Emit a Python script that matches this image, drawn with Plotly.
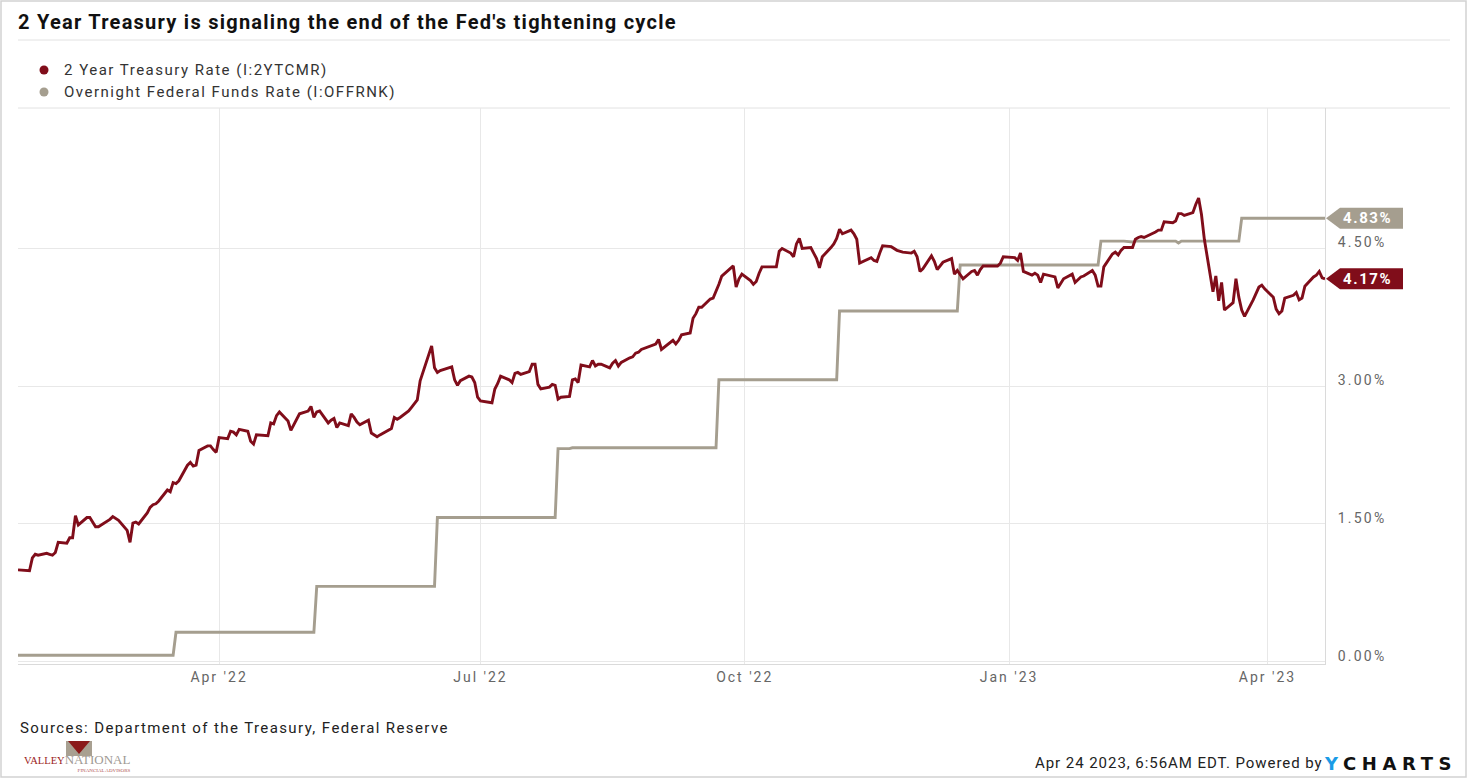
import plotly.graph_objects as go

# ---------------- data ----------------
tsy_dates = [
    # Jan 2022
    "2022-01-21", "2022-01-24", "2022-01-25", "2022-01-26", "2022-01-27", "2022-01-28", "2022-01-31",
    # Feb 2022
    "2022-02-01", "2022-02-02", "2022-02-03", "2022-02-04", "2022-02-07", "2022-02-08", "2022-02-09", "2022-02-10",
    "2022-02-11", "2022-02-14", "2022-02-15", "2022-02-16", "2022-02-17", "2022-02-18", "2022-02-22", "2022-02-23",
    "2022-02-24", "2022-02-25", "2022-02-28",
    # Mar 2022
    "2022-03-01", "2022-03-02", "2022-03-03", "2022-03-04", "2022-03-07", "2022-03-08", "2022-03-09", "2022-03-10",
    "2022-03-11", "2022-03-14", "2022-03-15", "2022-03-16", "2022-03-17", "2022-03-18", "2022-03-21", "2022-03-22",
    "2022-03-23", "2022-03-24", "2022-03-25", "2022-03-28", "2022-03-29", "2022-03-30", "2022-03-31",
    # Apr 2022
    "2022-04-01", "2022-04-04", "2022-04-05", "2022-04-06", "2022-04-07", "2022-04-08", "2022-04-11", "2022-04-12",
    "2022-04-13", "2022-04-14", "2022-04-18", "2022-04-19", "2022-04-20", "2022-04-21", "2022-04-22", "2022-04-25",
    "2022-04-26", "2022-04-27", "2022-04-28", "2022-04-29",
    # May 2022
    "2022-05-02", "2022-05-03", "2022-05-04", "2022-05-05", "2022-05-06", "2022-05-09", "2022-05-10", "2022-05-11",
    "2022-05-12", "2022-05-13", "2022-05-16", "2022-05-17", "2022-05-18", "2022-05-19", "2022-05-20", "2022-05-23",
    "2022-05-24", "2022-05-25", "2022-05-26", "2022-05-27", "2022-05-31",
    # Jun 2022
    "2022-06-01", "2022-06-02", "2022-06-03", "2022-06-06", "2022-06-07", "2022-06-08", "2022-06-09", "2022-06-10",
    "2022-06-13", "2022-06-14", "2022-06-15", "2022-06-16", "2022-06-17", "2022-06-21", "2022-06-22", "2022-06-23",
    "2022-06-24", "2022-06-27", "2022-06-28", "2022-06-29", "2022-06-30",
    # Jul 2022
    "2022-07-01", "2022-07-05", "2022-07-06", "2022-07-07", "2022-07-08", "2022-07-11", "2022-07-12", "2022-07-13",
    "2022-07-14", "2022-07-15", "2022-07-18", "2022-07-19", "2022-07-20", "2022-07-21", "2022-07-22", "2022-07-25",
    "2022-07-26", "2022-07-27", "2022-07-28", "2022-07-29",
    # Aug 2022
    "2022-08-01", "2022-08-02", "2022-08-03", "2022-08-04", "2022-08-05", "2022-08-08", "2022-08-09", "2022-08-10",
    "2022-08-11", "2022-08-12", "2022-08-15", "2022-08-16", "2022-08-17", "2022-08-18", "2022-08-19", "2022-08-22",
    "2022-08-23", "2022-08-24", "2022-08-25", "2022-08-26", "2022-08-29", "2022-08-30", "2022-08-31",
    # Sep 2022
    "2022-09-01", "2022-09-02", "2022-09-06", "2022-09-07", "2022-09-08", "2022-09-09", "2022-09-12", "2022-09-13",
    "2022-09-14", "2022-09-15", "2022-09-16", "2022-09-19", "2022-09-20", "2022-09-21", "2022-09-22", "2022-09-23",
    "2022-09-26", "2022-09-27", "2022-09-28", "2022-09-29", "2022-09-30",
    # Oct 2022
    "2022-10-03", "2022-10-04", "2022-10-05", "2022-10-06", "2022-10-07", "2022-10-11", "2022-10-12", "2022-10-13",
    "2022-10-14", "2022-10-17", "2022-10-18", "2022-10-19", "2022-10-20", "2022-10-21", "2022-10-24", "2022-10-25",
    "2022-10-26", "2022-10-27", "2022-10-28", "2022-10-31",
    # Nov 2022
    "2022-11-01", "2022-11-02", "2022-11-03", "2022-11-04", "2022-11-07", "2022-11-08", "2022-11-09", "2022-11-10",
    "2022-11-14", "2022-11-15", "2022-11-16", "2022-11-17", "2022-11-18", "2022-11-21", "2022-11-22", "2022-11-23",
    "2022-11-25", "2022-11-28", "2022-11-29", "2022-11-30",
    # Dec 2022
    "2022-12-01", "2022-12-02", "2022-12-05", "2022-12-06", "2022-12-07", "2022-12-08", "2022-12-09", "2022-12-12",
    "2022-12-13", "2022-12-14", "2022-12-15", "2022-12-16", "2022-12-19", "2022-12-20", "2022-12-21", "2022-12-22",
    "2022-12-23", "2022-12-27", "2022-12-28", "2022-12-29", "2022-12-30",
    # Jan 2023
    "2023-01-03", "2023-01-04", "2023-01-05", "2023-01-06", "2023-01-09", "2023-01-10", "2023-01-11", "2023-01-12",
    "2023-01-13", "2023-01-17", "2023-01-18", "2023-01-19", "2023-01-20", "2023-01-23", "2023-01-24", "2023-01-25",
    "2023-01-26", "2023-01-27", "2023-01-30", "2023-01-31",
    # Feb 2023
    "2023-02-01", "2023-02-02", "2023-02-03", "2023-02-06", "2023-02-07", "2023-02-08", "2023-02-09", "2023-02-10",
    "2023-02-13", "2023-02-14", "2023-02-15", "2023-02-16", "2023-02-17", "2023-02-21", "2023-02-22", "2023-02-23",
    "2023-02-24", "2023-02-27", "2023-02-28",
    # Mar 2023
    "2023-03-01", "2023-03-02", "2023-03-03", "2023-03-06", "2023-03-07", "2023-03-08", "2023-03-09", "2023-03-10",
    "2023-03-13", "2023-03-14", "2023-03-15", "2023-03-16", "2023-03-17", "2023-03-20", "2023-03-21", "2023-03-22",
    "2023-03-23", "2023-03-24", "2023-03-27", "2023-03-28", "2023-03-29", "2023-03-30", "2023-03-31",
    # Apr 2023
    "2023-04-03", "2023-04-04", "2023-04-05", "2023-04-06", "2023-04-07", "2023-04-10", "2023-04-11", "2023-04-12",
    "2023-04-13", "2023-04-14", "2023-04-17", "2023-04-18", "2023-04-19", "2023-04-20", "2023-04-21",
]

tsy_values = [
    # Jan 2022
    1.00, 0.99, 0.99, 1.13, 1.17, 1.16, 1.18,
    # Feb 2022
    1.17, 1.16, 1.19, 1.30, 1.29, 1.35, 1.35, 1.59,
    1.49, 1.57, 1.57, 1.52, 1.47, 1.47, 1.55, 1.58,
    1.56, 1.54, 1.43,
    # Mar 2022
    1.30, 1.51, 1.52, 1.50, 1.62, 1.68, 1.71, 1.72,
    1.75, 1.87, 1.85, 1.95, 1.94, 1.97, 2.14, 2.17,
    2.13, 2.14, 2.30, 2.35, 2.35, 2.31, 2.28,
    # Apr 2022
    2.44, 2.43, 2.51, 2.50, 2.47, 2.53, 2.51, 2.40,
    2.37, 2.47, 2.46, 2.60, 2.59, 2.68, 2.72, 2.62,
    2.52, 2.58, 2.63, 2.70,
    # May 2022
    2.73, 2.78, 2.66, 2.72, 2.73, 2.60, 2.63, 2.65,
    2.55, 2.60, 2.57, 2.70, 2.66, 2.61, 2.58, 2.63,
    2.49, 2.47, 2.45, 2.47, 2.54,
    # Jun 2022
    2.66, 2.64, 2.66, 2.73, 2.77, 2.81, 2.85, 3.06,
    3.33, 3.44, 3.20, 3.15, 3.17, 3.21, 3.07, 3.01,
    3.06, 3.11, 3.10, 3.04, 2.88,
    # Jul 2022
    2.84, 2.82, 2.97, 3.03, 3.11, 3.07, 3.04, 3.14,
    3.15, 3.13, 3.16, 3.24, 3.24, 3.02, 2.97, 2.99,
    3.02, 3.01, 2.86, 2.88,
    # Aug 2022
    2.89, 3.07, 3.08, 3.04, 3.23, 3.21, 3.28, 3.22,
    3.24, 3.24, 3.20, 3.25, 3.28, 3.22, 3.26, 3.31,
    3.32, 3.36, 3.37, 3.40, 3.44, 3.45, 3.46,
    # Sep 2022
    3.51, 3.40, 3.50, 3.46, 3.50, 3.56, 3.58, 3.74,
    3.79, 3.86, 3.86, 3.95, 3.96, 4.03, 4.11, 4.20,
    4.29, 4.31, 4.08, 4.17, 4.22,
    # Oct 2022
    4.15, 4.11, 4.14, 4.23, 4.30, 4.30, 4.30, 4.47,
    4.50, 4.45, 4.41, 4.55, 4.61, 4.50, 4.51, 4.45,
    4.39, 4.29, 4.41, 4.51,
    # Nov 2022
    4.55, 4.61, 4.71, 4.66, 4.70, 4.66, 4.60, 4.34,
    4.40, 4.37, 4.36, 4.45, 4.53, 4.52, 4.50, 4.48,
    4.46, 4.45, 4.47, 4.41,
    # Dec 2022
    4.25, 4.28, 4.42, 4.36, 4.27, 4.31, 4.35, 4.39,
    4.22, 4.26, 4.21, 4.17, 4.25, 4.26, 4.21, 4.27,
    4.31, 4.31, 4.31, 4.34, 4.41,
    # Jan 2023
    4.40, 4.37, 4.45, 4.25, 4.21, 4.23, 4.21, 4.13,
    4.22, 4.19, 4.07, 4.12, 4.17, 4.22, 4.13, 4.16,
    4.19, 4.20, 4.26, 4.21,
    # Feb 2023
    4.09, 4.09, 4.30, 4.44, 4.46, 4.43, 4.48, 4.51,
    4.51, 4.60, 4.62, 4.63, 4.62, 4.68, 4.70, 4.70,
    4.79, 4.78, 4.80,
    # Mar 2023
    4.88, 4.88, 4.86, 4.89, 4.98, 5.05, 4.87, 4.60,
    4.03, 4.20, 3.93, 4.13, 3.83, 3.91, 4.17, 3.97,
    3.83, 3.76, 3.94, 4.02, 4.08, 4.10, 4.06,
    # Apr 2023
    3.97, 3.84, 3.79, 3.82, 3.96, 3.99, 4.02, 3.94,
    3.96, 4.09, 4.19, 4.21, 4.25, 4.18, 4.17,
]

# Overnight Federal Funds Rate: corner points of the step series
fed_dates = [
    "2022-01-21", "2022-03-16", "2022-03-17", "2022-05-04", "2022-05-05",
    "2022-06-15", "2022-06-16", "2022-07-27", "2022-07-28", "2022-08-01", "2022-08-02",
    "2022-09-21", "2022-09-22", "2022-11-02", "2022-11-03", "2022-12-14", "2022-12-15",
    "2023-02-01", "2023-02-02", "2023-02-10", "2023-02-13", "2023-02-14",
    "2023-02-28", "2023-03-01", "2023-03-02", "2023-03-22", "2023-03-23", "2023-04-21",
]
fed_values = [
    0.07, 0.07, 0.32, 0.32, 0.82,
    0.82, 1.57, 1.57, 2.32, 2.32, 2.33,
    2.33, 3.07, 3.07, 3.82, 3.82, 4.32,
    4.32, 4.58, 4.58, 4.57, 4.58,
    4.58, 4.56, 4.58, 4.58, 4.83, 4.83,
]

series_names = ["2 Year Treasury Rate (I:2YTCMR)", "Overnight Federal Funds Rate (I:OFFRNK)"]
x_tick_vals = ["2022-04-01", "2022-07-01", "2022-10-01", "2023-01-01", "2023-04-01"]
x_tick_text = ["Apr '22", "Jul '22", "Oct '22", "Jan '23", "Apr '23"]
y_tick_vals = [0, 1.5, 3.0, 4.5]
y_tick_text = ["0.00%", "1.50%", "3.00%", "4.50%"]

assert len(tsy_dates) == len(tsy_values)
assert len(fed_dates) == len(fed_values)

# ---------------- styling ----------------
RED = "#800d1a"
TAN = "#a59e8f"
FONT = "Roboto"
W_FIG, H_FIG = 1469, 779
L, R, T, B = 18, 1325, 108, 664
PW, PH = R - L, B - T


def px(x):
    return (x - L) / PW


def py(y):
    return (B - y) / PH


def spaced(text, sp):
    return "<span style='letter-spacing:%.2fpx'>%s</span>" % (sp, text)


fig = go.Figure()
fig.add_trace(go.Scatter(x=fed_dates, y=fed_values, mode="lines", name=series_names[1],
                         line=dict(color=TAN, width=2.9), hoverinfo="skip", showlegend=False))
fig.add_trace(go.Scatter(x=tsy_dates, y=tsy_values, mode="lines", name=series_names[0],
                         line=dict(color=RED, width=2.9), hoverinfo="skip", showlegend=False))

shapes = []
annotations = []

# outer border
shapes.append(dict(type="rect", xref="paper", yref="paper", x0=px(1), x1=px(1466), y0=py(777), y1=py(1),
                   line=dict(color="#d2d2d2", width=1.5), fillcolor="rgba(0,0,0,0)", layer="below"))
# rules under title and above plot
for yy in (40, 108):
    shapes.append(dict(type="line", xref="paper", yref="paper", x0=px(18), x1=px(1450), y0=py(yy), y1=py(yy),
                       line=dict(color="#e2e2e2", width=1), layer="below"))

# legend (custom)
for i, (nm, col) in enumerate(zip(series_names, [RED, TAN])):
    yy = 70 + 22 * i
    shapes.append(dict(type="circle", xref="paper", yref="paper", xsizemode="pixel", ysizemode="pixel",
                       xanchor=px(44), yanchor=py(yy), x0=-4.5, x1=4.5, y0=-4.5, y1=4.5,
                       fillcolor=col, line=dict(width=0)))
    annotations.append(dict(xref="paper", yref="paper", x=px(62), y=py(yy), xanchor="left", yanchor="middle",
                            text=spaced(nm, 1.5), showarrow=False,
                            font=dict(family=FONT, size=15, color="#333333")))

# end value tags
for val, col in ((fed_values[-1], TAN), (tsy_values[-1], RED)):
    shapes.append(dict(type="path", xref="paper", yref="y", xsizemode="pixel", ysizemode="pixel",
                       xanchor=1, yanchor=val, path="M 1,0 L 15,-10.5 L 78,-10.5 L 78,10.5 L 15,10.5 Z",
                       fillcolor=col, line=dict(width=0)))
    annotations.append(dict(xref="paper", yref="y", x=1, y=val, xanchor="center", yanchor="middle", xshift=42,
                            text="<b>" + spaced("%.2f%%" % val, 1.6) + "</b>", showarrow=False,
                            font=dict(family=FONT, size=15, color="white")))

# footer
annotations.append(dict(xref="paper", yref="paper", x=px(18), y=py(728), xanchor="left", yanchor="middle",
                        text=spaced("Sources: Department of the Treasury, Federal Reserve", 1.4), showarrow=False,
                        font=dict(family=FONT, size=15, color="#222222")))
annotations.append(dict(xref="paper", yref="paper", x=px(1033), y=py(763), xanchor="left", yanchor="middle",
                        text=spaced("Apr 24 2023, 6:56AM EDT. Powered by", 0.95), showarrow=False,
                        font=dict(family=FONT, size=15, color="#222222")))
annotations.append(dict(xref="paper", yref="paper", x=px(1322), y=py(763), xanchor="left", yanchor="middle",
                        text=spaced("<span style='color:#1a9be6'>Y</span>CHARTS", 5.6),
                        showarrow=False, font=dict(family="DejaVu Sans", size=18, color="#111111", weight="bold")))

# Valley National logo (approximation)
shapes.append(dict(type="rect", xref="paper", yref="paper", x0=px(66), x1=px(92), y0=py(756), y1=py(741),
                   fillcolor="#a8a091", line=dict(width=0)))
shapes.append(dict(type="path", xref="paper", yref="paper",
                   path="M %f,%f L %f,%f L %f,%f Z" % (px(68), py(741), px(90), py(741), px(79), py(754)),
                   fillcolor="#8b1a1a", line=dict(width=0)))
annotations.append(dict(xref="paper", yref="paper", x=px(133), y=py(762), xanchor="right", yanchor="middle",
                        align="right", showarrow=False,
                        text=("<span style='font-size:10.5px;color:#9b1c22'>VALLEY</span>"
                              "<span style='font-size:13px;color:#a09a94'>NATIONAL</span><br>"
                              "<span style='font-size:5px;color:#b05050'>FINANCIAL ADVISORS</span>"),
                        font=dict(family="Liberation Serif", size=6, color="#a09a94")))

fig.update_layout(
    width=W_FIG, height=H_FIG,
    margin=dict(l=L, r=W_FIG - R, t=T, b=H_FIG - B, pad=0),
    paper_bgcolor="white", plot_bgcolor="white",
    title=dict(text="<b>" + spaced("2 Year Treasury is signaling the end of the Fed's tightening cycle", 1.25) + "</b>",
               xref="container", yref="container", x=18 / W_FIG, y=1 - 22 / H_FIG,
               xanchor="left", yanchor="middle", font=dict(family=FONT, size=20, color="#111111")),
    showlegend=False,
    hovermode=False,
    shapes=shapes,
    annotations=annotations,
    xaxis=dict(type="date", range=["2022-01-21", "2023-04-21"], tickvals=x_tick_vals,
               ticktext=[spaced(t, 2.0) for t in x_tick_text],
               showgrid=True, gridcolor="#e8e8e8", gridwidth=1, showline=True, linecolor="#dadada", linewidth=1,
               ticks="", zeroline=False, tickfont=dict(family=FONT, size=14, color="#666666"), fixedrange=True),
    yaxis=dict(side="right", range=[-0.025, 6.03], tickvals=y_tick_vals,
               ticktext=[spaced(t, 2.2) for t in y_tick_text],
               showgrid=True, gridcolor="#e8e8e8", gridwidth=1, showline=True, linecolor="#dadada", linewidth=1,
               ticks="", zeroline=False, ticklabelstandoff=9, ticklabelshift=-6,
               tickfont=dict(family=FONT, size=14, color="#666666"), fixedrange=True),
)

fig.write_html("out.html", config={"displayModeBar": False},
               post_script="document.body.style.margin='0px';document.body.style.overflow='hidden';")
